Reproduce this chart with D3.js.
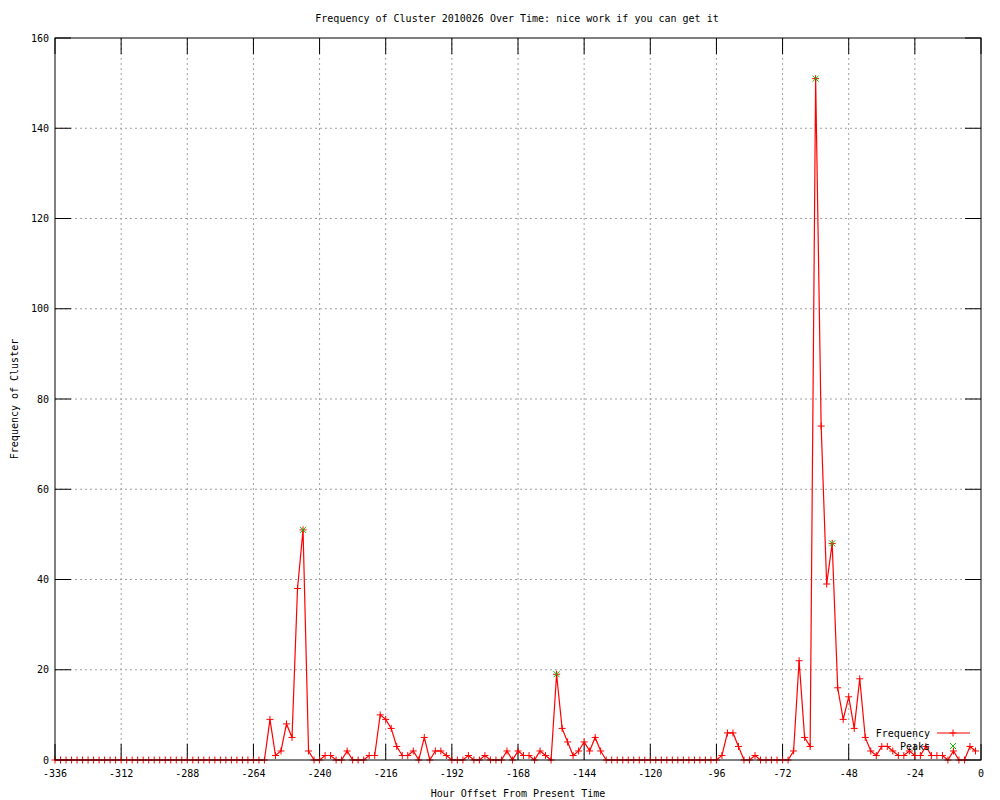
<!DOCTYPE html>
<meta charset="utf-8">
<style>
body { margin: 0; background: #fff; }
text { font-family: "DejaVu Sans Mono", monospace; font-size: 10px; fill: #000; }
</style>
<body>
<script src="https://d3js.org/d3.v7.min.js"></script>
<script>

var width = 1000,
    height = 800;

var margin = {left: 55, right: 19, top: 38, bottom: 40};

// hour offsets, every 2 hours from -336 to -2
var hours = d3.range(-336, 0, 2);

// frequency, one value per hour offset above
var freq = [
  0, 0, 0, 0, 0, 0, 0, 0, 0, 0,   // -336 .. -318
  0, 0, 0, 0, 0, 0, 0, 0, 0, 0,   // -316 .. -298
  0, 0, 0, 0, 0, 0, 0, 0, 0, 0,   // -296 .. -278
  0, 0, 0, 0, 0, 0, 0, 0, 0, 9,   // -276 .. -258
  1, 2, 8, 5, 38, 51, 2, 0, 0, 1, // -256 .. -238
  1, 0, 0, 2, 0, 0, 0, 1, 1, 10,  // -236 .. -218
  9, 7, 3, 1, 1, 2, 0, 5, 0, 2,   // -216 .. -198
  2, 1, 0, 0, 0, 1, 0, 0, 1, 0,   // -196 .. -178
  0, 0, 2, 0, 2, 1, 1, 0, 2, 1,   // -176 .. -158
  0, 19, 7, 4, 1, 2, 4, 2, 5, 2,  // -156 .. -138
  0, 0, 0, 0, 0, 0, 0, 0, 0, 0,   // -136 .. -118
  0, 0, 0, 0, 0, 0, 0, 0, 0, 0,   // -116 .. -98
  0, 1, 6, 6, 3, 0, 0, 1, 0, 0,   // -96 .. -78
  0, 0, 0, 0, 2, 22, 5, 3, 151, 74, // -76 .. -58
  39, 48, 16, 9, 14, 7, 18, 5, 2, 1,  // -56 .. -38
  3, 3, 2, 1, 1, 2, 1, 1, 3, 1,   // -36 .. -18
  1, 1, 0, 2, 0, 0, 3, 2          // -16 .. -2
];

var peakHours = [-246, -154, -60, -54];
var peakValues = [51, 19, 151, 48];

var xTicks = d3.range(-336, 1, 24);
var yTicks = d3.range(0, 161, 20);

var svg = d3.select("body").append("svg")
    .attr("width", width)
    .attr("height", height);

var x = d3.scaleLinear()
    .domain([-336, 0])
    .range([margin.left, width - margin.right]);

var y = d3.scaleLinear()
    .domain([0, 160])
    .range([height - margin.bottom, margin.top]);

var x0 = x.range()[0], x1 = x.range()[1],
    y0 = y.range()[0], y1 = y.range()[1];
var ticLen = 16;

// grid
svg.append("g").selectAll("line")
    .data(xTicks.slice(1, -1))
    .enter().append("line")
      .attr("x1", d => x(d)).attr("x2", d => x(d))
      .attr("y1", y1).attr("y2", y0)
      .attr("stroke", "#a0a0a0")
      .attr("stroke-dasharray", "2,3");

svg.append("g").selectAll("line")
    .data(yTicks.slice(1, -1))
    .enter().append("line")
      .attr("x1", x0).attr("x2", x1)
      .attr("y1", d => y(d)).attr("y2", d => y(d))
      .attr("stroke", "#a0a0a0")
      .attr("stroke-dasharray", "2,3");

// tick marks, mirrored
var ticks = svg.append("g").attr("stroke", "#000");
xTicks.forEach(function(t) {
  ticks.append("line").attr("x1", x(t)).attr("x2", x(t)).attr("y1", y0).attr("y2", y0 - ticLen);
  ticks.append("line").attr("x1", x(t)).attr("x2", x(t)).attr("y1", y1).attr("y2", y1 + ticLen);
});
yTicks.forEach(function(t) {
  ticks.append("line").attr("x1", x0).attr("x2", x0 + ticLen).attr("y1", y(t)).attr("y2", y(t));
  ticks.append("line").attr("x1", x1).attr("x2", x1 - ticLen).attr("y1", y(t)).attr("y2", y(t));
});

// tick labels
svg.append("g").selectAll("text")
    .data(xTicks)
    .enter().append("text")
      .attr("x", d => x(d))
      .attr("y", y0 + 13)
      .attr("text-anchor", "middle")
      .attr("dominant-baseline", "central")
      .text(d => String(d));

svg.append("g").selectAll("text")
    .data(yTicks)
    .enter().append("text")
      .attr("x", x0 - 6)
      .attr("y", d => y(d))
      .attr("text-anchor", "end")
      .attr("dominant-baseline", "central")
      .text(d => String(d));

// frequency line + points
var pts = hours.map((h, i) => [h, freq[i]]);

svg.append("path")
    .datum(pts)
    .attr("fill", "none")
    .attr("stroke", "#ff0000")
    .attr("stroke-width", 1.2)
    .attr("d", d3.line().x(d => x(d[0])).y(d => y(d[1])));

function plus(cx, cy, s) {
  return "M" + (cx - s) + "," + cy + "H" + (cx + s) + "M" + cx + "," + (cy - s) + "V" + (cy + s);
}
function cross(cx, cy, s) {
  return "M" + (cx - s) + "," + (cy - s) + "L" + (cx + s) + "," + (cy + s) +
         "M" + (cx - s) + "," + (cy + s) + "L" + (cx + s) + "," + (cy - s);
}

svg.append("g").selectAll("path")
    .data(pts)
    .enter().append("path")
      .attr("d", d => plus(x(d[0]), y(d[1]), 3.5))
      .attr("stroke", "#ff0000")
      .attr("stroke-width", 1);

svg.append("g").selectAll("path")
    .data(peakHours)
    .enter().append("path")
      .attr("d", (d, i) => cross(x(d), y(peakValues[i]), 3))
      .attr("stroke", "#00c000")
      .attr("stroke-width", 1);

// border
svg.append("rect")
    .attr("x", x0).attr("y", y1)
    .attr("width", x1 - x0).attr("height", y0 - y1)
    .attr("fill", "none")
    .attr("stroke", "#000");

// key
var keyX = 930, keyY = 733;
svg.append("text").attr("x", keyX).attr("y", keyY)
    .attr("text-anchor", "end").attr("dominant-baseline", "central")
    .text("Frequency");
svg.append("line")
    .attr("x1", keyX + 7).attr("x2", keyX + 40)
    .attr("y1", keyY).attr("y2", keyY)
    .attr("stroke", "#ff0000").attr("stroke-width", 1.2);
svg.append("path")
    .attr("d", plus(keyX + 23, keyY, 3.5))
    .attr("stroke", "#ff0000");
svg.append("text").attr("x", keyX).attr("y", keyY + 13)
    .attr("text-anchor", "end").attr("dominant-baseline", "central")
    .text("Peaks");
svg.append("path")
    .attr("d", cross(keyX + 23, keyY + 13, 3))
    .attr("stroke", "#00c000");

// titles
svg.append("text")
    .attr("x", (x0 + x1) / 2 - 1)
    .attr("y", 18)
    .attr("text-anchor", "middle")
    .attr("dominant-baseline", "central")
    .text("Frequency of Cluster 2010026 Over Time: nice work if you can get it");

svg.append("text")
    .attr("x", (x0 + x1) / 2)
    .attr("y", 793)
    .attr("text-anchor", "middle")
    .attr("dominant-baseline", "central")
    .text("Hour Offset From Present Time");

svg.append("text")
    .attr("transform", "translate(14," + ((y0 + y1) / 2) + ") rotate(-90)")
    .attr("text-anchor", "middle")
    .attr("dominant-baseline", "central")
    .text("Frequency of Cluster");

</script>
